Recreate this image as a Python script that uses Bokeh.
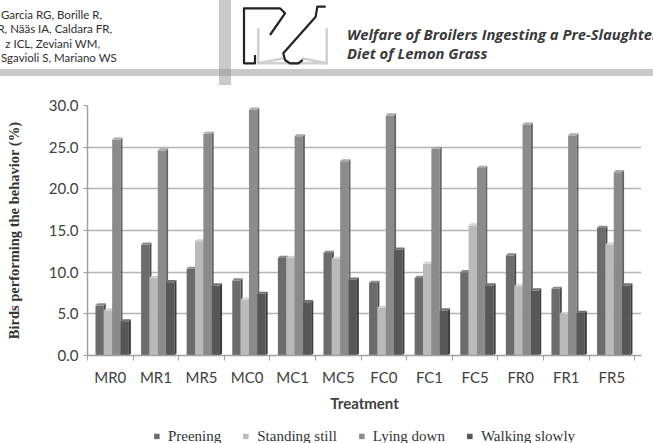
import numpy as np
from bokeh.plotting import figure
from bokeh.models import Range1d, FixedTicker, NumeralTickFormatter, Legend, LegendItem, Div
from bokeh.layouts import column
from bokeh.embed import file_html
from bokeh.resources import INLINE

# ---- data -------------------------------------------------------------
treatments = ["MR0", "MR1", "MR5", "MC0", "MC1", "MC5",
              "FC0", "FC1", "FC5", "FR0", "FR1", "FR5"]
preening = [6.0, 13.3, 10.4, 9.0, 11.7, 12.3, 8.7, 9.3, 10.0, 12.0, 8.0, 15.3]
standing_still = [5.4, 9.3, 13.7, 6.7, 11.7, 11.6, 5.7, 11.0, 15.6, 8.3, 5.0, 13.3]
lying_down = [25.9, 24.6, 26.6, 29.5, 26.3, 23.3, 28.8, 24.8, 22.5, 27.7, 26.4, 22.0]
walking_slowly = [4.1, 8.8, 8.4, 7.4, 6.4, 9.1, 12.7, 5.4, 8.4, 7.8, 5.1, 8.4]

series_names = ["Preening", "Standing still", "Lying down", "Walking slowly"]
series_values = [preening, standing_still, lying_down, walking_slowly]
y_ticks = [0, 5, 10, 15, 20, 25, 30]

authors = ["Garcia RG, Borille R,", "R, Nääs IA, Caldara FR,",
           "z ICL, Zeviani WM,", "Sgavioli S, Mariano WS"]
title_lines = ["Welfare of Broilers Ingesting a Pre-Slaughter",
               "Diet of Lemon Grass"]

# ---- styles -----------------------------------------------------------
front_colors = ["#6c6c6c", "#bababa", "#8b8b8b", "#575757"]
side_colors = ["#4c4c4c", "#929292", "#666666", "#3b3b3b"]
top_colors = ["#8a8a8a", "#d2d2d2", "#a8a8a8", "#727272"]
GROUP_START = 0.175   # offset of the first bar inside a category slot
BAR_W = 0.183         # width of a bar's front face (category units)
DX, DY = 0.044, 0.26  # depth of the pseudo-3D side/top faces

# ---- running header ---------------------------------------------------
def span(text, top, css):
    return (f'<span style="position:absolute;top:{top}px;white-space:nowrap;'
            f'line-height:16px;{css}">{text}</span>')

author_css = "font-family:Lato;font-size:11.5px;color:#2e2e2e;"
author_pos = ["left:1px;", "right:541px;", "right:553px;", "left:1px;"]
author_mid = [15, 29.3, 43.6, 58]
title_css = ("left:347px;font-family:'Open Sans';font-size:14.8px;font-style:italic;"
             "font-weight:bold;color:#3a3a3a;")
title_mid = [34, 53]

logo = (
    '<svg style="position:absolute;left:0;top:0" width="653" height="90">'
    '<g fill="none" stroke="#cfcfcf" stroke-width="2.5">'
    '<polyline points="258.3,28.3 258.3,63.3 283.3,58.3"/>'
    '<polyline points="326.7,28.3 326.7,63.3 301.7,58.3"/>'
    '<polyline points="258.3,63.3 326.7,63.3"/></g>'
    '<g fill="none" stroke="#222222" stroke-width="2.2" stroke-linejoin="round">'
    '<polyline points="255,55 255,63.3 244,63.3 244,8.3 280,8.3 285,13.3 270,35"/>'
    '<polyline points="325.7,6.7 317.3,6.7 315.7,16.7 283.3,53.3 285,60 290,63.3 '
    '298.3,63.3 302.7,60"/></g></svg>'
)

parts = [
    '<div style="position:relative;width:653px;height:90px;overflow:hidden;background:#ffffff;">',
    '<div style="position:absolute;left:0;top:69px;width:653px;height:6.5px;'
    'background:rgba(147,147,147,0.5);"></div>',
    '<div style="position:absolute;left:219px;top:0;width:12px;height:85px;'
    'background:rgba(147,147,147,0.5);"></div>',
    logo,
]
for txt, pos, mid in zip(authors, author_pos, author_mid):
    parts.append(span(txt, mid - 8, pos + author_css))
for txt, mid in zip(title_lines, title_mid):
    parts.append(span(txt, mid - 8, title_css))
parts.append('</div>')
header = Div(text="".join(parts), width=653, height=90, margin=0)

# ---- bar chart --------------------------------------------------------
p = figure(frame_width=554, frame_height=250,
           x_range=Range1d(0, 12.15), y_range=Range1d(0, 30),
           toolbar_location=None, output_backend="svg",
           min_border_left=87, min_border_right=12, min_border_top=15,
           min_border_bottom=0, margin=0)
p.outline_line_color = None
p.xgrid.visible = False
p.ygrid.grid_line_color = "#b4b4b4"
p.ygrid.grid_line_width = 1.5
p.ygrid.ticker = FixedTicker(ticks=y_ticks)

idx = np.arange(len(treatments))
for k, (name, vals) in enumerate(zip(series_names, series_values)):
    v = np.asarray(vals, dtype=float)
    x0 = idx + GROUP_START + k * BAR_W
    x1 = x0 + BAR_W
    p.quad(left=x0, right=x1, bottom=0, top=v,
           fill_color=front_colors[k], line_color=None)
    p.patches(xs=[[a, a + DX, a + DX, a] for a in x1],
              ys=[[0, DY, h + DY, h] for h in v],
              fill_color=side_colors[k], line_color=None)
    p.patches(xs=[[a, b, b + DX, a + DX] for a, b in zip(x0, x1)],
              ys=[[h, h, h + DY, h + DY] for h in v],
              fill_color=top_colors[k], line_color=None)

# x axis: labels centred in each slot, small marks between slots
p.xaxis.ticker = FixedTicker(ticks=[i + 0.5 for i in idx],
                             minor_ticks=list(range(len(treatments) + 1)))
p.xaxis.major_label_overrides = {float(i + 0.5): t for i, t in zip(idx, treatments)}
p.xaxis.major_tick_out = 0
p.xaxis.major_tick_in = 0
p.xaxis.minor_tick_out = 5
p.xaxis.minor_tick_in = 0
p.xaxis.minor_tick_line_color = "#a0a0a0"
p.xaxis.axis_line_color = "#a0a0a0"
p.xaxis.axis_line_width = 1.5
p.xaxis.major_label_standoff = 7
p.xaxis.major_label_text_font = "Lato"
p.xaxis.major_label_text_font_size = "15px"
p.xaxis.major_label_text_color = "#404040"
p.xaxis.axis_label = "Treatment"
p.xaxis.axis_label_text_font = "Lato"
p.xaxis.axis_label_text_font_style = "bold"
p.xaxis.axis_label_text_font_size = "15px"
p.xaxis.axis_label_text_color = "#404040"
p.xaxis.axis_label_standoff = 5

# y axis
p.yaxis.ticker = FixedTicker(ticks=y_ticks)
p.yaxis.formatter = NumeralTickFormatter(format="0.0")
p.yaxis.major_tick_out = 4
p.yaxis.major_tick_in = 0
p.yaxis.minor_tick_out = 0
p.yaxis.minor_tick_in = 0
p.yaxis.major_tick_line_color = "#a0a0a0"
p.yaxis.axis_line_color = "#a0a0a0"
p.yaxis.axis_line_width = 1.5
p.yaxis.major_label_standoff = 5
p.yaxis.major_label_text_font = "Lato"
p.yaxis.major_label_text_font_size = "15px"
p.yaxis.major_label_text_color = "#404040"
p.yaxis.axis_label = "Birds performing the behavior (%)"
p.yaxis.axis_label_text_font = "Liberation Serif"
p.yaxis.axis_label_text_font_style = "bold"
p.yaxis.axis_label_text_font_size = "14.5px"
p.yaxis.axis_label_text_color = "#333333"
p.yaxis.axis_label_standoff = 24

# ---- legend strip under the chart ---------------------------------------
key = figure(frame_width=554, frame_height=44, x_range=Range1d(0, 1), y_range=Range1d(0, 1),
             x_axis_type=None, y_axis_type=None, toolbar_location=None,
             output_backend="svg", min_border_left=87, min_border_right=12,
             min_border_top=0, min_border_bottom=0, margin=0)
key.outline_line_color = None
key.grid.visible = False
legend_items = []
for k, name in enumerate(series_names):
    # zero-size quad: only supplies the legend swatch style
    swatch = key.quad(left=[0], right=[0], top=[0], bottom=[0],
                      fill_color=front_colors[k], line_color=None)
    legend_items.append(LegendItem(label=name, renderers=[swatch]))

legend = Legend(items=legend_items, orientation="horizontal", location="center",
                glyph_width=7, glyph_height=7, label_standoff=8, spacing=21,
                padding=0, margin=0, border_line_color=None,
                background_fill_alpha=0,
                label_text_font="Liberation Serif", label_text_font_size="15px",
                label_text_color="#333333")
key.add_layout(legend)

layout = column(header, p, key, spacing=0)
open("out.html", "w").write(file_html(layout, INLINE))
